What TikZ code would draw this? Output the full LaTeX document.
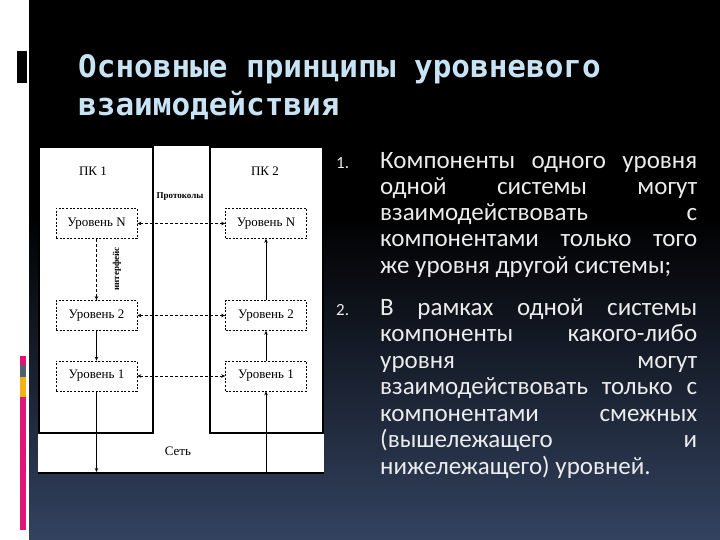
\documentclass[tikz,border=0pt]{standalone}
\usepackage{fontspec}
\setmainfont{Liberation Serif}
\newfontfamily\carl{Carlito}
\newfontfamily\ttl{DejaVu Sans Mono}
\usetikzlibrary{arrows.meta}
\definecolor{slb}{RGB}{80,104,150}
\definecolor{titlec}{RGB}{200,228,244}
\definecolor{txtc}{RGB}{236,236,236}
\definecolor{pinkbar}{RGB}{226,20,120}
\definecolor{graybar}{RGB}{80,96,110}
\definecolor{yelbar}{RGB}{240,180,20}
\pgfdeclareverticalshading{slidebg}{100bp}{color(0bp)=(slb); color(15bp)=(slb!85!black); color(55bp)=(black); color(100bp)=(black)}
\tikzset{
  lvl/.style={draw, dash pattern=on 2pt off 1.6pt, line width=0.7pt, minimum width=81pt, minimum height=30pt, inner sep=0pt, font=\fontsize{13}{15}\selectfont},
  pcbox/.style={draw, line width=1.4pt},
  hdash/.style={dash pattern=on 3pt off 2pt, line width=0.6pt, {Stealth[length=4pt,width=3.5pt]}-{Stealth[length=4pt,width=3.5pt]}},
  vline/.style={line width=0.7pt, -{Stealth[length=4pt,width=3.5pt]}},
  lbl/.style={font=\fontsize{13}{15}\selectfont, inner sep=0pt},
  small/.style={font=\bfseries\fontsize{9}{10}\selectfont, inner sep=0pt},
  ttlstyle/.style={font=\ttl\bfseries\fontsize{31}{38}\selectfont, text=titlec, anchor=base west, inner sep=0pt},
  listtxt/.style={font=\carl\fontsize{25}{26}\selectfont, text=txtc, inner sep=0pt, anchor=base west},
  listnum/.style={font=\carl\fontsize{17}{20}\selectfont, text=txtc, inner sep=0pt, anchor=base west},
}
\newcommand{\jl}[1]{\makebox[317pt][s]{#1}}
\begin{document}
\begin{tikzpicture}[x=1pt,y=-1pt]
\useasboundingbox (0,0) rectangle (720,540);
% slide background
\fill[white] (0,0) rectangle (29,540);
\shade[shading=slidebg] (29,0) rectangle (720,540);
\fill[black] (17,51) rectangle (27,83);
\fill[pinkbar] (20,356) rectangle (26,365);
\fill[graybar] (20,365) rectangle (26,377);
\fill[yelbar] (20,377) rectangle (26,397);
\fill[pinkbar] (20,397) rectangle (26,530);
% title
\node[ttlstyle] (t1) at (78,78) {Основные принципы уровневого};
\node[ttlstyle] (t2) at (78,116) {взаимодействия};
% diagram
\fill[white] (38,146) rectangle (324,473);
\draw[pcbox] (39,147) rectangle (153,433);
\draw[pcbox] (210,147) rectangle (323,433);
\draw[line width=1.4pt] (38,473) -- (324,473);
\node[lbl] (pc1) at (93,171) {ПК 1};
\node[lbl] (pc2) at (265,171) {ПК 2};
\node[small] (prot) at (180,197) {Протоколы};
\node[small, rotate=90] (intf) at (117,269) {интерфейс};
\node[lbl] (net) at (178,451) {Сеть};
\node[lvl] (ln1) at (96.5,223.5) {Уровень N};
\node[lvl] (ln2) at (266,223.5) {Уровень N};
\node[lvl] (l21) at (96.5,315.5) {Уровень 2};
\node[lvl] (l22) at (266,315.5) {Уровень 2};
\node[lvl] (l11) at (96.5,376) {Уровень 1};
\node[lvl] (l12) at (266,376) {Уровень 1};
\coordinate (netL) at (96.5,472);
\coordinate (netR) at (266,472);
\draw[hdash] (ln1.east) -- (ln2.west);
\draw[hdash] (l21.east) -- (l22.west);
\draw[hdash] (l11.east) -- (l12.west);
\draw[vline, dash pattern=on 3pt off 2pt] (ln1.south) -- (l21.north);
\draw[vline] (l21.south) -- (l11.north);
\draw[vline] (l11.south) -- (netL);
\draw[vline] (netR) -- (l12.south);
\draw[vline] (l12.north) -- (l22.south);
\draw[vline] (l22.north) -- (ln2.south);
% list
\node[listnum] (n1) at (336,169) {1.};
\node[listtxt] (a1) at (380,169) {\jl{Компоненты одного уровня}};
\node[listtxt] (a2) at (380,195) {\jl{одной системы могут}};
\node[listtxt] (a3) at (380,221) {\jl{взаимодействовать с}};
\node[listtxt] (a4) at (380,247) {\jl{компонентами только того}};
\node[listtxt] (a5) at (380,273) {же уровня другой системы;};
\node[listnum] (n2) at (336,315) {2.};
\node[listtxt] (b1) at (380,315) {\jl{В рамках одной системы}};
\node[listtxt] (b2) at (380,341.5) {\jl{компоненты какого-либо}};
\node[listtxt] (b3) at (380,368) {\jl{уровня могут}};
\node[listtxt] (b4) at (380,394.5) {\jl{взаимодействовать только с}};
\node[listtxt] (b5) at (380,421) {\jl{компонентами смежных}};
\node[listtxt] (b6) at (380,447.5) {\jl{(вышележащего и}};
\node[listtxt] (b7) at (380,474) {нижележащего) уровней.};
\end{tikzpicture}
\end{document}
